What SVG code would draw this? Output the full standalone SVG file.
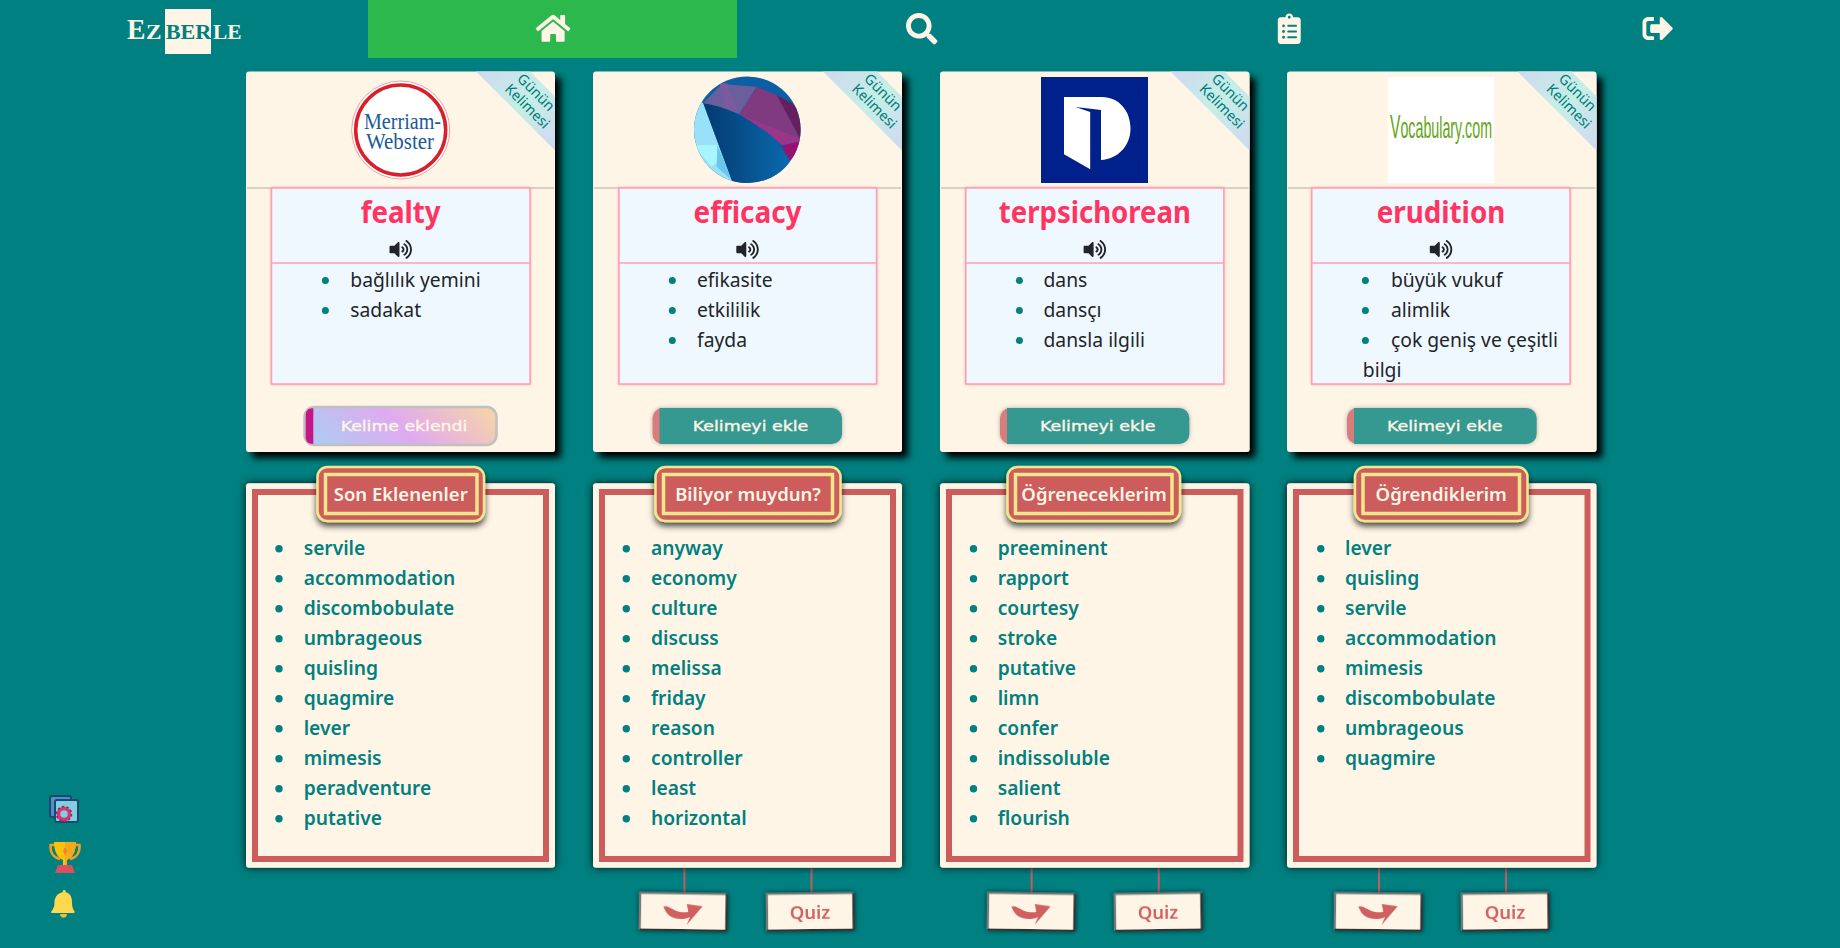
<svg xmlns="http://www.w3.org/2000/svg" width="1840" height="948" viewBox="0 0 1840 948">
<style>
text{font-family:"Noto Sans","Liberation Sans",sans-serif}
.card{fill:#fff5e6}
.box{fill:#f0f8ff;stroke:#ff9fb0;stroke-width:1.5}
.div{stroke:#ccc5b8;stroke-width:1.5}
.pink{stroke:#ff9fb0;stroke-width:1.5}
.ttl{font-size:30px;font-weight:700;fill:#ff3460;text-anchor:middle}
.def{font-size:19.3px;fill:#212529}
.dot{fill:#008080}
.rib{font-size:14.3px;fill:#007d7a;text-anchor:middle}
.btn{fill:#369992}
.bl{fill:#d97c7c}
.bt{font-family:"DejaVu Sans",sans-serif;font-size:14.5px;font-weight:400;fill:#fff5e6;stroke:#fff5e6;stroke-width:.35}
.frame{fill:none;stroke:#cd5c5c;stroke-width:6}
.bo{fill:#cd5c5c;stroke:#f0e68c;stroke-width:2.5}
.bi{fill:#cd5c5c;stroke:#f0e68c;stroke-width:3.5}
.bdt{font-size:18.5px;font-weight:600;fill:#fff5e6;text-anchor:middle}
.w{font-size:19.2px;font-weight:650;fill:#008080}
.con{stroke:#c95b5f;stroke-width:2}
.qb{fill:#fff5e6}
.qtl{fill:none;stroke:#7a7a7a;stroke-width:2.2}
.qbr{fill:none;stroke:#333;stroke-width:2.2}
.qt{font-size:18.5px;font-weight:600;fill:#d0605f;text-anchor:middle}
.ar{fill:#d0605f}
.ic{fill:#fff5e6}
</style>
<defs>
<filter id="s1" x="-10%" y="-10%" width="125%" height="125%"><feDropShadow dx="6" dy="6" stdDeviation="3.5" flood-color="#000" flood-opacity="1"/></filter>
<filter id="s2" x="-10%" y="-10%" width="120%" height="120%"><feDropShadow dx="0" dy="0" stdDeviation="4" flood-color="#000" flood-opacity=".85"/></filter>
<filter id="s3" x="-20%" y="-30%" width="140%" height="170%"><feDropShadow dx="0" dy="4" stdDeviation="3" flood-color="#000" flood-opacity=".7"/></filter>
<filter id="s4" x="-20%" y="-30%" width="140%" height="160%"><feDropShadow dx="0" dy="0" stdDeviation="2.5" flood-color="#000" flood-opacity=".7"/></filter>
<filter id="s5" x="-10%" y="-20%" width="120%" height="140%"><feDropShadow dx="0" dy="0" stdDeviation="2" flood-color="#000" flood-opacity=".3"/></filter>
<filter id="s6" x="-5%" y="-5%" width="110%" height="110%"><feDropShadow dx="0" dy="0" stdDeviation="1.2" flood-color="#ff8fa3" flood-opacity=".8"/></filter>
<linearGradient id="rg" gradientUnits="userSpaceOnUse" x1="0" y1="0" x2="79" y2="79"><stop offset="0" stop-color="#d0d8f0"/><stop offset=".5" stop-color="#c5efe6"/><stop offset="1" stop-color="#d0d8f0"/></linearGradient>
<linearGradient id="eg" gradientUnits="userSpaceOnUse" x1="342.5" y1="484.5" x2="459.5" y2="367.5"><stop offset="0" stop-color="#a6d0f2"/><stop offset=".5" stop-color="#e0aaf0"/><stop offset="1" stop-color="#f9d7a2"/></linearGradient>
<linearGradient id="bg2" gradientUnits="userSpaceOnUse" x1="705" y1="150" x2="795" y2="150"><stop offset="0" stop-color="#043a72"/><stop offset="1" stop-color="#0a6db0"/></linearGradient>
<clipPath id="dc"><circle cx="747.3" cy="129.7" r="53.3"/></clipPath>
<g id="rb"><polygon points="0,0 54,0 79,25 79,79" fill="url(#rg)"/><text class="rib" transform="translate(60,20.7) rotate(45)" y="5">Günün</text><text class="rib" transform="translate(51.5,34.6) rotate(45)" y="5">Kelimesi</text></g>
<path id="vol" d="M215.03 71.05L126.06 160H24c-13.26 0-24 10.74-24 24v144c0 13.25 10.74 24 24 24h102.06l88.97 88.95c15.03 15.03 40.97 4.47 40.97-16.97V88.02c0-21.46-25.96-31.98-40.97-16.97zm233.32-51.08c-11.17-7.33-26.18-4.24-33.51 6.95-7.34 11.17-4.22 26.18 6.95 33.51 66.27 43.49 105.82 116.6 105.82 195.58 0 78.98-39.55 152.09-105.82 195.58-11.17 7.32-14.29 22.34-6.95 33.5 7.04 10.71 21.93 14.56 33.51 6.95C528.27 439.58 576 351.33 576 256S528.27 72.43 448.35 19.97zM480 256c0-63.53-32.06-121.94-85.77-156.24-11.19-7.14-26.03-3.82-33.12 7.46s-3.78 26.21 7.41 33.36C408.27 165.97 432 209.11 432 256s-23.73 90.03-63.48 115.42c-11.19 7.14-14.5 22.07-7.41 33.36 6.51 10.36 21.12 15.14 33.12 7.46C447.94 377.94 480 319.54 480 256zm-141.77-76.87c-11.58-6.33-26.19-2.16-32.61 9.45-6.39 11.61-2.16 26.2 9.45 32.61C327.98 228.28 336 241.63 336 256c0 14.38-8.02 27.72-20.92 34.81-11.61 6.41-15.84 21-9.45 32.61 6.44 11.66 21.05 15.8 32.61 9.45 28.23-15.55 45.77-45 45.77-76.88s-17.54-61.32-45.78-76.86z" fill="#212529"/>
<path id="arw" class="ar" d="M0,2.7 C5,1.5 8,5 13,7 C17,8.5 22,8.5 25,7.7 L23.4,0 L39.4,2 L23.4,21 L26.7,13 C20,16.5 10,15.5 5,11 C2.5,8.5 1,5 0,2.7 Z"/>
<g id="qbx"><rect class="qb" width="86.5" height="36.5"/><path class="qtl" d="M0,36.5 V0 H86.5"/><path class="qbr" d="M86.5,0 V36.5 H0"/></g>
</defs>
<rect width="1840" height="948" fill="#008080"/>

<g id="header">
<g id="logo">
<rect x="165" y="9" width="46" height="45" fill="#fff5e6"/>
<text y="39" font-weight="700" style="font-family:'Liberation Serif',serif" fill="#fff5e6"><tspan x="127" font-size="30" textLength="18.5" lengthAdjust="spacingAndGlyphs">E</tspan><tspan x="146" font-size="21" textLength="15.5" lengthAdjust="spacingAndGlyphs">Z</tspan><tspan x="165.7" font-size="21" fill="#008080" textLength="45.5" lengthAdjust="spacingAndGlyphs">BER</tspan><tspan x="213" font-size="21" textLength="28.5" lengthAdjust="spacingAndGlyphs">LE</tspan></text>
</g>
<g id="nav-home"><rect x="368" y="0" width="369" height="58" fill="#2db84d"/><path class="ic" transform="translate(535.8,13) scale(.06)" d="M280.37 148.26L96 300.11V464a16 16 0 0 0 16 16l112.06-.29a16 16 0 0 0 15.92-16V368a16 16 0 0 1 16-16h64a16 16 0 0 1 16 16v95.64a16 16 0 0 0 16 16.05L464 480a16 16 0 0 0 16-16V300L295.67 148.26a12.19 12.19 0 0 0-15.3 0zM571.6 251.47L488 182.56V44.05a12 12 0 0 0-12-12h-56a12 12 0 0 0-12 12v72.61L318.47 43a48 48 0 0 0-61 0L4.34 251.47a12 12 0 0 0-1.6 16.9l25.5 31A12 12 0 0 0 45.15 301l235.22-193.74a12.19 12.19 0 0 1 15.3 0L530.9 301a12 12 0 0 0 16.9-1.6l25.5-31a12 12 0 0 0-1.7-16.93z"/></g>
<g id="nav-search"><path class="ic" transform="translate(906,13) scale(.0615)" d="M505 442.7L405.3 343c-4.5-4.5-10.6-7-17-7H372c27.6-35.3 44-79.7 44-128C416 93.1 322.9 0 208 0S0 93.1 0 208s93.1 208 208 208c48.3 0 92.7-16.4 128-44v16.3c0 6.4 2.5 12.5 7 17l99.7 99.7c9.4 9.4 24.6 9.4 33.9 0l28.3-28.3c9.4-9.4 9.4-24.6.1-34zM208 336c-70.7 0-128-57.2-128-128 0-70.7 57.2-128 128-128 70.7 0 128 57.2 128 128 0 70.7-57.2 128-128 128z"/></g>
<g id="nav-list"><path class="ic" transform="translate(1277.8,13.4) scale(.0597)" d="M336 64h-80c0-35.3-28.7-64-64-64s-64 28.7-64 64H48C21.5 64 0 85.5 0 112v352c0 26.5 21.5 48 48 48h288c26.5 0 48-21.5 48-48V112c0-26.5-21.5-48-48-48zM96 424c-13.3 0-24-10.7-24-24s10.7-24 24-24 24 10.7 24 24-10.7 24-24 24zm0-96c-13.3 0-24-10.7-24-24s10.7-24 24-24 24 10.7 24 24-10.7 24-24 24zm0-96c-13.3 0-24-10.7-24-24s10.7-24 24-24 24 10.7 24 24-10.7 24-24 24zm96-192c13.3 0 24 10.7 24 24s-10.7 24-24 24-24-10.7-24-24 10.7-24 24-24zm128 368c0 4.4-3.6 8-8 8H168c-4.4 0-8-3.6-8-8v-16c0-4.4 3.6-8 8-8h144c4.4 0 8 3.6 8 8v16zm0-96c0 4.4-3.6 8-8 8H168c-4.4 0-8-3.6-8-8v-16c0-4.4 3.6-8 8-8h144c4.4 0 8 3.6 8 8v16zm0-96c0 4.4-3.6 8-8 8H168c-4.4 0-8-3.6-8-8v-16c0-4.4 3.6-8 8-8h144c4.4 0 8 3.6 8 8v16z"/></g>
<g id="nav-exit"><path class="ic" transform="translate(1642.5,13.2) scale(.06)" d="M497 273L329 441c-15 15-41 4.5-41-17v-96H152c-13.3 0-24-10.7-24-24v-96c0-13.3 10.7-24 24-24h136V88c0-21.4 25.9-32 41-17l168 168c9.3 9.4 9.3 24.6 0 34zM192 436v-40c0-6.6-5.4-12-12-12H96c-17.7 0-32-14.3-32-32V160c0-17.7 14.3-32 32-32h84c6.6 0 12-5.4 12-12V76c0-6.6-5.4-12-12-12H96c-53 0-96 43-96 96v192c0 53 43 96 96 96h84c6.6 0 12-5.4 12-12z"/></g>
</g>

<g id="word-card-1">
<rect class="card" x="246" y="71.5" width="309" height="380.5" rx="3" filter="url(#s1)"/>
<use href="#rb" x="476" y="71.5"/>
<line class="div" x1="247" x2="554" y1="188" y2="188"/>
<circle cx="400.7" cy="130" r="49" fill="#fff" stroke="#f3a0a0" stroke-width="1"/>
<circle cx="400.7" cy="130" r="45" fill="#fff" stroke="#d8202a" stroke-width="3.5"/>
<text font-size="22.5" fill="#1b5a96" style="font-family:'Liberation Serif',serif"><tspan x="364" y="129" textLength="77" lengthAdjust="spacingAndGlyphs">Merriam-</tspan><tspan x="366" y="149" textLength="68" lengthAdjust="spacingAndGlyphs">Webster</tspan></text>
<g filter="url(#s6)"><rect class="box" x="271.5" y="188" width="258.5" height="196"/><line class="pink" x1="271.5" x2="530" y1="263" y2="263"/></g>
<text class="ttl" x="400.7" y="222.5" textLength="80" lengthAdjust="spacingAndGlyphs">fealty</text>
<use href="#vol" transform="translate(389.5,239.5) scale(.039)"/>
<circle class="dot" cx="325.4" cy="280.5" r="3.5"/><text class="def" x="350.3" y="286.7">bağlılık yemini</text>
<circle class="dot" cx="325.4" cy="310.5" r="3.5"/><text class="def" x="350.3" y="316.7">sadakat</text>
<rect x="304.5" y="407" width="192" height="38" rx="10" fill="url(#eg)" stroke="#c0c0c0" stroke-width="2.5"/>
<path d="M313.3,408.2 H312 C308,408.2 305.7,411 305.7,415 V437 C305.7,441 308,443.8 312,443.8 H313.3 Z" fill="#c71585"/>
<text class="bt" x="340.7" y="430.7" textLength="126.6" lengthAdjust="spacingAndGlyphs">Kelime eklendi</text>
</g>

<g id="word-card-2">
<rect class="card" x="593" y="71.5" width="309" height="380.5" rx="3" filter="url(#s1)"/>
<use href="#rb" x="823" y="71.5"/>
<line class="div" x1="594" x2="901" y1="188" y2="188"/>
<g clip-path="url(#dc)">
<rect x="690" y="75" width="115" height="110" fill="#0a5fa5"/>
<polygon points="703.3,103.3 721.7,84 756.7,86.7 739.3,114" fill="#6a5f9c"/>
<polygon points="720,84 727,83 738,112 725,108" fill="#7b5a9e"/>
<polygon points="756.7,86.7 776.7,95 800,138.3 739.3,114" fill="#7f3a80"/>
<polygon points="776.7,95 791.7,103.3 810,120 800,138.3" fill="#651f5f"/>
<polygon points="739.3,114 800,138.3 810,140 781.7,145 766.7,131.7" fill="#9c3488"/>
<polygon points="781.7,146 810,139 790,160.7" fill="#9a1070"/>
<polygon points="685,90 703.3,103.3 731.7,180 735,195 685,195" fill="#99e0f9"/>
<polygon points="696,145 717.3,145 721.7,158.3 711.7,166.7 700,153.3" fill="#a6f5ff"/>
<polygon points="717.3,145 731.7,180 716.7,166.7" fill="#6cc6ec"/>
<path d="M703.3,103.3 C737,108 770,130 790,160.7 L790,190 L735,190 L731.7,180 Z" fill="url(#bg2)"/>
</g>
<g filter="url(#s6)"><rect class="box" x="619" y="188" width="257.5" height="196"/><line class="pink" x1="619" x2="876.5" y1="263" y2="263"/></g>
<text class="ttl" x="747.5" y="222.5" textLength="108" lengthAdjust="spacingAndGlyphs">efficacy</text>
<use href="#vol" transform="translate(736.3,239.5) scale(.039)"/>
<circle class="dot" cx="672.3" cy="280.5" r="3.5"/><text class="def" x="697" y="286.7">efikasite</text>
<circle class="dot" cx="672.3" cy="310.5" r="3.5"/><text class="def" x="697" y="316.7">etkililik</text>
<circle class="dot" cx="672.3" cy="340.5" r="3.5"/><text class="def" x="697" y="346.7">fayda</text>
<g filter="url(#s5)"><rect class="bl" x="652.5" y="408" width="30" height="36" rx="10"/><path class="btn" d="M659.5,408 H832 A10,10 0 0 1 842,418 V434 A10,10 0 0 1 832,444 H659.5 Z"/></g>
<text class="bt" x="692.8" y="431" textLength="115.5" lengthAdjust="spacingAndGlyphs">Kelimeyi ekle</text>
</g>

<g id="word-card-3">
<rect class="card" x="940" y="71.5" width="309.5" height="380.5" rx="3" filter="url(#s1)"/>
<use href="#rb" x="1170.5" y="71.5"/>
<line class="div" x1="941" x2="1248.5" y1="188" y2="188"/>
<rect x="1041" y="77" width="107" height="106" fill="#00218b"/>
<path d="M1064,97 H1102 C1119,97 1130.5,111 1130.5,128.3 C1130.5,146 1118,159 1101,160 V110 L1075.6,107 L1090.2,112 V169.3 L1064,154.3 Z" fill="#fff"/>
<g filter="url(#s6)"><rect class="box" x="965.8" y="188" width="258" height="196"/><line class="pink" x1="965.8" x2="1223.8" y1="263" y2="263"/></g>
<text class="ttl" x="1094.8" y="222.5" textLength="192" lengthAdjust="spacingAndGlyphs">terpsichorean</text>
<use href="#vol" transform="translate(1083.6,239.5) scale(.039)"/>
<circle class="dot" cx="1019.4" cy="280.5" r="3.5"/><text class="def" x="1043.5" y="286.7">dans</text>
<circle class="dot" cx="1019.4" cy="310.5" r="3.5"/><text class="def" x="1043.5" y="316.7">dansçı</text>
<circle class="dot" cx="1019.4" cy="340.5" r="3.5"/><text class="def" x="1043.5" y="346.7">dansla ilgili</text>
<g filter="url(#s5)"><rect class="bl" x="1000" y="408" width="30" height="36" rx="10"/><path class="btn" d="M1007,408 H1179.4 A10,10 0 0 1 1189.4,418 V434 A10,10 0 0 1 1179.4,444 H1007 Z"/></g>
<text class="bt" x="1040" y="431" textLength="115.5" lengthAdjust="spacingAndGlyphs">Kelimeyi ekle</text>
</g>

<g id="word-card-4">
<rect class="card" x="1287" y="71.5" width="309.5" height="380.5" rx="3" filter="url(#s1)"/>
<use href="#rb" x="1517.5" y="71.5"/>
<line class="div" x1="1288" x2="1595.5" y1="188" y2="188"/>
<rect x="1388" y="77" width="106" height="106" fill="#fff"/>
<text x="1390" y="138" font-size="30" fill="#63a515" textLength="102" lengthAdjust="spacingAndGlyphs" style="font-family:'Liberation Sans',sans-serif"><tspan font-size="33">V</tspan>ocabulary.com</text>
<g filter="url(#s6)"><rect class="box" x="1311.8" y="188" width="258.2" height="196"/><line class="pink" x1="1311.8" x2="1570" y1="263" y2="263"/></g>
<text class="ttl" x="1441" y="222.5" textLength="128.5" lengthAdjust="spacingAndGlyphs">erudition</text>
<use href="#vol" transform="translate(1429.8,239.5) scale(.039)"/>
<circle class="dot" cx="1365.4" cy="280.5" r="3.5"/><text class="def" x="1391" y="286.7">büyük vukuf</text>
<circle class="dot" cx="1365.4" cy="310.5" r="3.5"/><text class="def" x="1391" y="316.7">alimlik</text>
<circle class="dot" cx="1365.4" cy="340.5" r="3.5"/><text class="def" x="1391" y="346.7">çok geniş ve çeşitli</text>
<text class="def" x="1362.8" y="376.7">bilgi</text>
<g filter="url(#s5)"><rect class="bl" x="1347" y="408" width="30" height="36" rx="10"/><path class="btn" d="M1354,408 H1526.7 A10,10 0 0 1 1536.7,418 V434 A10,10 0 0 1 1526.7,444 H1354 Z"/></g>
<text class="bt" x="1387" y="431" textLength="115.5" lengthAdjust="spacingAndGlyphs">Kelimeyi ekle</text>
</g>

<g id="connectors">
<line class="con" x1="684.4" x2="684.4" y1="868" y2="894"/>
<line class="con" x1="811.5" x2="811.5" y1="868" y2="894"/>
<line class="con" x1="1031.6" x2="1031.6" y1="868" y2="894"/>
<line class="con" x1="1158.7" x2="1158.7" y1="868" y2="894"/>
<line class="con" x1="1379" x2="1379" y1="868" y2="894"/>
<line class="con" x1="1506" x2="1506" y1="868" y2="894"/>
</g>

<g id="list-son-eklenenler">
<rect class="card" x="246" y="483.3" width="309" height="384.5" rx="3" filter="url(#s2)"/>
<rect class="frame" x="255" y="492" width="291" height="367"/>
<g filter="url(#s3)"><rect class="bo" x="317.5" y="467" width="166.5" height="54" rx="10"/></g>
<rect class="bi" x="325.5" y="474.5" width="151.5" height="39"/>
<text class="bdt" x="400.7" y="501">Son Eklenenler</text>
<g class="dot"><circle cx="279" cy="548.7" r="3.7"/><circle cx="279" cy="578.7" r="3.7"/><circle cx="279" cy="608.7" r="3.7"/><circle cx="279" cy="638.7" r="3.7"/><circle cx="279" cy="668.7" r="3.7"/><circle cx="279" cy="698.7" r="3.7"/><circle cx="279" cy="728.7" r="3.7"/><circle cx="279" cy="758.7" r="3.7"/><circle cx="279" cy="788.7" r="3.7"/><circle cx="279" cy="818.7" r="3.7"/></g>
<text class="w" x="303.7" y="555">servile</text><text class="w" x="303.7" y="585">accommodation</text><text class="w" x="303.7" y="615">discombobulate</text><text class="w" x="303.7" y="645">umbrageous</text><text class="w" x="303.7" y="675">quisling</text><text class="w" x="303.7" y="705">quagmire</text><text class="w" x="303.7" y="735">lever</text><text class="w" x="303.7" y="765">mimesis</text><text class="w" x="303.7" y="795">peradventure</text><text class="w" x="303.7" y="825">putative</text>
</g>

<g id="list-biliyor-muydun">
<rect class="card" x="593" y="483.3" width="309" height="384.5" rx="3" filter="url(#s2)"/>
<rect class="frame" x="602" y="492" width="291" height="367"/>
<g filter="url(#s3)"><rect class="bo" x="655.5" y="467" width="185" height="54" rx="10"/></g>
<rect class="bi" x="663.5" y="474.5" width="169" height="39"/>
<text class="bdt" x="748" y="501">Biliyor muydun?</text>
<g class="dot"><circle cx="626.3" cy="548.7" r="3.7"/><circle cx="626.3" cy="578.7" r="3.7"/><circle cx="626.3" cy="608.7" r="3.7"/><circle cx="626.3" cy="638.7" r="3.7"/><circle cx="626.3" cy="668.7" r="3.7"/><circle cx="626.3" cy="698.7" r="3.7"/><circle cx="626.3" cy="728.7" r="3.7"/><circle cx="626.3" cy="758.7" r="3.7"/><circle cx="626.3" cy="788.7" r="3.7"/><circle cx="626.3" cy="818.7" r="3.7"/></g>
<text class="w" x="651" y="555">anyway</text><text class="w" x="651" y="585">economy</text><text class="w" x="651" y="615">culture</text><text class="w" x="651" y="645">discuss</text><text class="w" x="651" y="675">melissa</text><text class="w" x="651" y="705">friday</text><text class="w" x="651" y="735">reason</text><text class="w" x="651" y="765">controller</text><text class="w" x="651" y="795">least</text><text class="w" x="651" y="825">horizontal</text>
</g>

<g id="list-ogreneceklerim">
<rect class="card" x="940" y="483.3" width="309.5" height="384.5" rx="3" filter="url(#s2)"/>
<rect class="frame" x="949" y="492" width="291.5" height="367"/>
<g filter="url(#s3)"><rect class="bo" x="1007.5" y="467" width="172.5" height="54" rx="10"/></g>
<rect class="bi" x="1015.5" y="474.5" width="156.5" height="39"/>
<text class="bdt" x="1094" y="501">Öğreneceklerim</text>
<g class="dot"><circle cx="973.5" cy="548.7" r="3.7"/><circle cx="973.5" cy="578.7" r="3.7"/><circle cx="973.5" cy="608.7" r="3.7"/><circle cx="973.5" cy="638.7" r="3.7"/><circle cx="973.5" cy="668.7" r="3.7"/><circle cx="973.5" cy="698.7" r="3.7"/><circle cx="973.5" cy="728.7" r="3.7"/><circle cx="973.5" cy="758.7" r="3.7"/><circle cx="973.5" cy="788.7" r="3.7"/><circle cx="973.5" cy="818.7" r="3.7"/></g>
<text class="w" x="997.7" y="555">preeminent</text><text class="w" x="997.7" y="585">rapport</text><text class="w" x="997.7" y="615">courtesy</text><text class="w" x="997.7" y="645">stroke</text><text class="w" x="997.7" y="675">putative</text><text class="w" x="997.7" y="705">limn</text><text class="w" x="997.7" y="735">confer</text><text class="w" x="997.7" y="765">indissoluble</text><text class="w" x="997.7" y="795">salient</text><text class="w" x="997.7" y="825">flourish</text>
</g>

<g id="list-ogrendiklerim">
<rect class="card" x="1287" y="483.3" width="309.5" height="384.5" rx="3" filter="url(#s2)"/>
<rect class="frame" x="1296" y="492" width="291.5" height="367"/>
<g filter="url(#s3)"><rect class="bo" x="1355" y="467" width="172.5" height="54" rx="10"/></g>
<rect class="bi" x="1363" y="474.5" width="156.5" height="39"/>
<text class="bdt" x="1441.2" y="501">Öğrendiklerim</text>
<g class="dot"><circle cx="1320.8" cy="548.7" r="3.7"/><circle cx="1320.8" cy="578.7" r="3.7"/><circle cx="1320.8" cy="608.7" r="3.7"/><circle cx="1320.8" cy="638.7" r="3.7"/><circle cx="1320.8" cy="668.7" r="3.7"/><circle cx="1320.8" cy="698.7" r="3.7"/><circle cx="1320.8" cy="728.7" r="3.7"/><circle cx="1320.8" cy="758.7" r="3.7"/></g>
<text class="w" x="1345" y="555">lever</text><text class="w" x="1345" y="585">quisling</text><text class="w" x="1345" y="615">servile</text><text class="w" x="1345" y="645">accommodation</text><text class="w" x="1345" y="675">mimesis</text><text class="w" x="1345" y="705">discombobulate</text><text class="w" x="1345" y="735">umbrageous</text><text class="w" x="1345" y="765">quagmire</text>
</g>

<g id="next-2" filter="url(#s4)" transform="rotate(.8 683 911)"><use href="#qbx" x="640" y="893.5"/><use href="#arw" x="663.3" y="904"/></g>
<g id="quiz-2" filter="url(#s4)" transform="rotate(-.6 810 911)"><use href="#qbx" x="767" y="893.5"/><text class="qt" x="810" y="919">Quiz</text></g>
<g id="next-3" filter="url(#s4)" transform="rotate(.8 1031 911)"><use href="#qbx" x="988" y="893.5"/><use href="#arw" x="1011.3" y="904"/></g>
<g id="quiz-3" filter="url(#s4)" transform="rotate(-.8 1158 911)"><use href="#qbx" x="1115" y="893.5"/><text class="qt" x="1158" y="919">Quiz</text></g>
<g id="next-4" filter="url(#s4)" transform="rotate(.6 1378 911)"><use href="#qbx" x="1335" y="893.5"/><use href="#arw" x="1358.3" y="904"/></g>
<g id="quiz-4" filter="url(#s4)" transform="rotate(-.6 1505 911)"><use href="#qbx" x="1462" y="893.5"/><text class="qt" x="1505" y="919">Quiz</text></g>

<g id="side-settings">
<rect x="50" y="796" width="21" height="21" rx="2" fill="#4d8fd1" stroke="#1d4a6a" stroke-width="2"/>
<rect x="55" y="800" width="23" height="22" rx="2" fill="#7fcfe0" stroke="#1d4a6a" stroke-width="2"/>
<circle cx="64" cy="814" r="5.5" fill="none" stroke="#d8336f" stroke-width="3.5"/>
<circle cx="64" cy="814" r="7.5" fill="none" stroke="#8a2f5f" stroke-width="1.5" stroke-dasharray="2.5 2.2"/>
</g>
<g id="side-trophy">
<path d="M55,845 H50.5 C50,853 54,858 60,859 M75,845 H79.5 C80,853 76,858 70,859" fill="none" stroke="#f0a020" stroke-width="2.5"/>
<path d="M54,842 H76 C76,852 72,858 67,860 V865 H63 V860 C58,858 54,852 54,842 Z" fill="#ffc107"/>
<path d="M65,842 H76 C76,852 72,858 67,860 V865 H65 Z" fill="#f7a81b"/>
<path d="M65,847 L67,851 L65,855 L63,851 Z" fill="#f08030"/>
<path d="M58,865 H72 L75,873 H55 Z" fill="#dc4f60"/>
</g>
<g id="side-bell">
<path d="M62.8,890.5 a2.2,2.2 0 0 1 2.8,0 v1.8 C71,893.5 72,898 72,903 C72,907 73,909 74.5,911.5 a1,1 0 0 1 -.8,1.5 H51.8 a1,1 0 0 1 -.5,-1.5 C53,909 54.5,907 54.5,903 C54.5,898 56.5,893.5 62.8,892.3 Z" fill="#ffd84d"/>
<path d="M60,914 H67 C67,919 60,919 60,914 Z" fill="#f5b82e"/>
</g>
</svg>
